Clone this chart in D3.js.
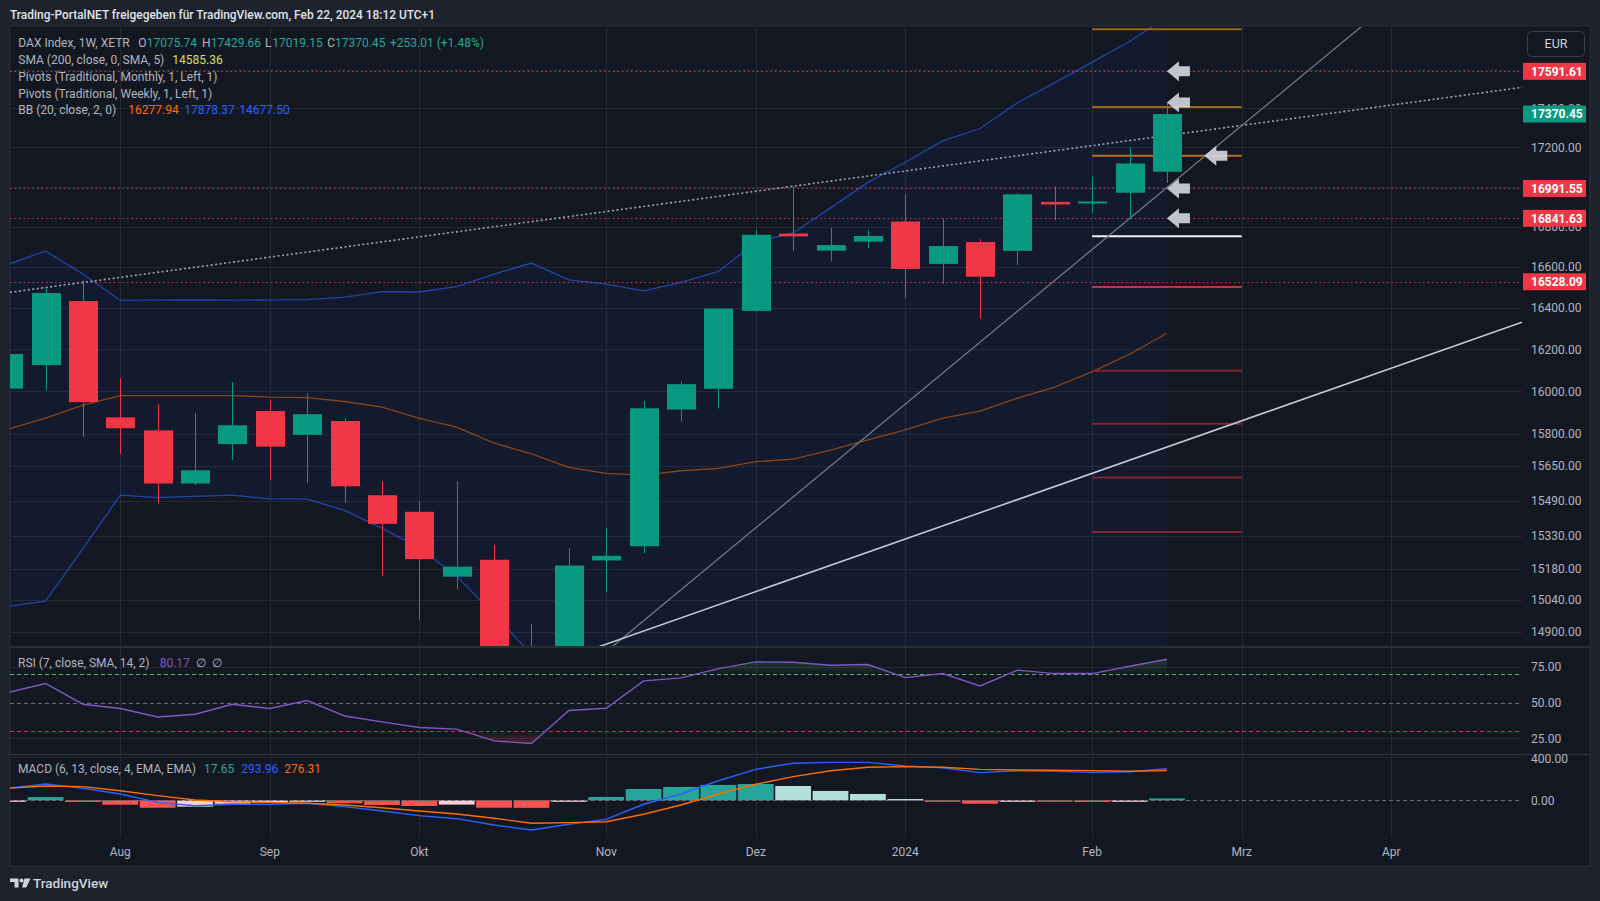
<!DOCTYPE html>
<html><head><meta charset="utf-8">
<script src="https://cdn.jsdelivr.net/npm/d3@7/dist/d3.min.js"></script>
<style>html,body{margin:0;padding:0;background:#1e222d;overflow:hidden;}svg{display:block}</style>
</head><body>
<svg id="chart" width="1600" height="901"></svg>
<script>
// ---------------- DATA ----------------
const weeks = ["2023-07-17","2023-07-24","2023-07-31","2023-08-07","2023-08-14","2023-08-21","2023-08-28","2023-09-04","2023-09-11","2023-09-18","2023-09-25","2023-10-02","2023-10-09","2023-10-16","2023-10-23","2023-10-30","2023-11-06","2023-11-13","2023-11-20","2023-11-27","2023-12-04","2023-12-11","2023-12-18","2023-12-25","2024-01-01","2024-01-08","2024-01-15","2024-01-22","2024-01-29","2024-02-05","2024-02-12","2024-02-19"];
const open  = [16013,16125,16434,15877,15816,15569,15752,15907,15795,15860,15515,15439,15145,15221,14800,14690,15218,15282,15914,16012,16386,16766,16681,16726,16826,16616,16724,16680,16924,16919,16970,17075.74];
const high  = [16240,16496,16533,16063,15940,15898,16044,15958,15991,15873,15580,15486,15580,15289,14934,15272,15366,15954,16047,16400,16784,17002,16795,16784,16964,16841,16737,16967,17002,17051,17201,17429.66];
const low   = [15990,16003,15784,15705,15476,15560,15677,15587,15571,15480,15148,14953,15087,14720,14630,14680,15075,15251,15857,15919,16380,16679,16629,16694,16449,16519,16349,16611,16832,16867,16841,17019.15];
const close = [16178,16473,15949,15826,15569,15630,15840,15740,15892,15556,15384,15224,15190,14798,14687,15195,15239,15920,16034,16397,16760,16752,16709,16754,16591,16704,16553,16962,16911,16926,17118,17370.45];

const bbUpper = [16613,16680,16566,16437,16440,16439,16438,16440,16441,16453,16480,16478,16504,16566,16620,16537,16517,16484,16525,16579,16724,16769,16894,17022,17124,17233,17296,17429,17533,17640,17748,17878.37];
const bbBasis = [15822,15874,15935,15980,15980,15980,15980,15973,15970,15952,15925,15872,15831,15756,15706,15644,15616,15608,15628,15639,15670,15682,15724,15771,15818,15874,15907,15968,16020,16094,16177,16277.94];
const bbLower = [15012,15035,15271,15515,15504,15510,15515,15498,15497,15445,15363,15274,15147,14977,14800,14755,14720,14735,14735,14705,14620,14600,14560,14525,14520,14520,14520,14510,14515,14550,14610,14677.50];

const rsi = [57.0,63.3,48.8,45.8,39.9,41.8,48.8,45.8,51.4,40.6,36.5,32.5,31.4,23.2,21.4,44.4,46.0,65.1,67.2,73.7,78.4,78.1,76.0,76.5,67.4,70.2,61.6,72.6,70.2,70.2,75.3,80.17];
const macdLine = [112,152,112,59,-19,-50,-37,-37,-28,-59,-100,-143,-171,-230,-276,-223,-177,-37,59,182,288,344,353,353,319,303,257,275,270,260,266,293.96];
const signalLine = [112,133,127,89,43,3,-13,-19,-28,-44,-69,-100,-127,-167,-214,-208,-199,-130,-44,59,149,220,275,307,313,307,288,282,279,276,270,276.31];
const histogram = [-5,30,-16,-41,-69,-59,-32,-22,-11,-28,-43,-53,-40,-69,-70,-6,31,105,124,143,152,133,87,59,12,-5,-32,-5,-7,-16,-4,17.65];

const priceTicks = [17600,17400,17200,17000,16800,16600,16400,16200,16000,15800,15650,15490,15330,15180,15040,14900];
const rsiTicks = [75,50,25];
const rsiLevels = [70,50,30];
const macdTicks = [400,0];
const monthTicks = [["2023-08-07","Aug"],["2023-09-04","Sep"],["2023-10-02","Okt"],["2023-11-06","Nov"],["2023-12-04","Dez"],["2024-01-01","2024"],["2024-02-05","Feb"],["2024-03-04","Mrz"],["2024-04-01","Apr"]];

const hLevels = [17591.61,16991.55,16841.63,16528.09];
const pivotSpan = ["2024-02-05","2024-03-04"];
const pivotNames  = ["R3","R2","R1","P","S1","S2","S3","S4","S5"];
const pivotLevels = [17812,17407,17157,16753,16503,16098,15847,15597,15347];
const trendDotted = [["2023-07-24",16500],["2023-12-11",17003]];
const trendSteep  = [["2023-11-06",14812],["2024-02-12",16841]];
const trendLower  = [["2023-10-23",14730],["2024-02-19",15738]];
const arrowPoints = [["2024-02-19",17591.61],["2024-02-19",17429.66],["2024-02-26",17157],["2024-02-19",16991.55],["2024-02-19",16841.63]];

// ---------------- SETUP ----------------
const F = "Roboto, 'Liberation Sans', Arial, sans-serif";
const parse = s => { const [a,b,c] = s.split("-").map(Number); return new Date(Date.UTC(a,b-1,c)); };
const dates = weeks.map(parse);
const N = dates.length;

const L = 10, PR = 1522, FR = 1590;
const P = {t:27, b:646}, RP = {t:648, b:753}, MP = {t:756, b:838};

const x = d3.scaleTime().domain([parse("2023-08-07"), parse("2024-04-01")]).range([120.3, 1391.2]);
const y = d3.scaleLog().domain([17400,14900]).range([108.3,631.7]);
const yR = d3.scaleLinear().domain([75,25]).range([666.7,738.3]);
const yM = d3.scaleLinear().domain([400,0]).range([757.3,800.3]);
const step = x(dates[1]) - x(dates[0]);

const svg = d3.select("#chart");
const defs = svg.append("defs");
function clip(id, t, b){ defs.append("clipPath").attr("id",id).append("rect").attr("x",L).attr("y",t).attr("width",PR-L).attr("height",b-t); }
clip("cp", P.t, P.b); clip("cr", RP.t, RP.b); clip("cm", MP.t, MP.b);

// backgrounds
svg.append("rect").attr("width",1600).attr("height",901).attr("fill","#1e222d");
svg.append("rect").attr("x",L).attr("y",26).attr("width",FR-L).attr("height",866-26).attr("fill","#131722").attr("stroke","#2a2e39").attr("stroke-width",1);

// header
svg.append("text").attr("x",10).attr("y",15).attr("dy","0.35em").attr("font-family",F).attr("font-size",12).attr("font-weight",500)
  .attr("fill","#e0e3eb").attr("textLength",425).attr("lengthAdjust","spacingAndGlyphs")
  .text("Trading-PortalNET freigegeben für TradingView.com, Feb 22, 2024 18:12 UTC+1");

// ---------- grid ----------
const grid = svg.append("g").attr("stroke","#252934").attr("stroke-width",1);
monthTicks.forEach(([d]) => {
  const xx = Math.round(x(parse(d)))+0.5;
  grid.append("line").attr("x1",xx).attr("x2",xx).attr("y1",P.t).attr("y2",MP.b);
});
priceTicks.forEach(v => { const yy = Math.round(y(v))+0.5; grid.append("line").attr("x1",L).attr("x2",PR).attr("y1",yy).attr("y2",yy); });
rsiTicks.filter(v=>v!==50).forEach(v => { const yy = Math.round(yR(v))+0.5; grid.append("line").attr("x1",L).attr("x2",PR).attr("y1",yy).attr("y2",yy); });
macdTicks.filter(v=>v!==0).forEach(v => { const yy = Math.round(yM(v))+0.5; grid.append("line").attr("x1",L).attr("x2",PR).attr("y1",yy).attr("y2",yy); });

// ---------- price pane ----------
const pg = svg.append("g").attr("clip-path","url(#cp)");
const bbArea = d3.area().x((d,i)=>x(dates[i])).y0((d,i)=>y(bbLower[i])).y1((d,i)=>y(bbUpper[i]));
pg.append("path").datum(bbUpper).attr("d",bbArea).attr("fill","#2962ff").attr("opacity",0.055);
const lineOf = arr => d3.line().x((d,i)=>x(dates[i])).y(d=>y(d))(arr);
pg.append("path").attr("d",lineOf(bbUpper)).attr("fill","none").attr("stroke","#2962ff").attr("stroke-width",1.3).attr("opacity",0.6);
pg.append("path").attr("d",lineOf(bbLower)).attr("fill","none").attr("stroke","#2962ff").attr("stroke-width",1.3).attr("opacity",0.6);
pg.append("path").attr("d",lineOf(bbBasis)).attr("fill","none").attr("stroke","#ff6d00").attr("stroke-width",1.3).attr("opacity",0.5);

// pivots
const pivColor = n => n==="P" ? "#f0f0f0" : n==="S1" ? "#c8323f" : n.startsWith("S") ? "#7d2732" : n==="R1" ? "#b8701a" : "#9c6418";
pivotLevels.forEach((v,i) => {
  const yy = y(v);
  pg.append("line").attr("x1",x(parse(pivotSpan[0]))).attr("x2",x(parse(pivotSpan[1]))).attr("y1",yy).attr("y2",yy)
    .attr("stroke",pivColor(pivotNames[i])).attr("stroke-width",2);
});

// red dotted horizontal lines
hLevels.forEach(v => {
  const yy = Math.round(y(v))+0.5;
  pg.append("line").attr("x1",L).attr("x2",PR).attr("y1",yy).attr("y2",yy).attr("stroke","#f23645").attr("stroke-width",1).attr("stroke-dasharray","1.5 3").attr("opacity",0.9);
});

// trend lines (extended through anchors)
function trend(pts, style){
  const x1 = x(parse(pts[0][0])), y1 = y(pts[0][1]), x2 = x(parse(pts[1][0])), y2 = y(pts[1][1]);
  const m = (y2-y1)/(x2-x1);
  const l = pg.append("line").attr("x1",L).attr("y1",y1+(L-x1)*m).attr("x2",PR).attr("y2",y1+(PR-x1)*m).attr("fill","none");
  Object.entries(style).forEach(([k,v])=>l.attr(k,v));
}
trend(trendDotted, {"stroke":"#a3a6af","stroke-width":1.6,"stroke-dasharray":"2 2.5"});
trend(trendSteep,  {"stroke":"#7c7f89","stroke-width":1.2});
trend(trendLower,  {"stroke":"#c9ccd4","stroke-width":1.5});

// candles
const up = "#089981", dn = "#f23645";
const bw = 29;
dates.forEach((d,i) => {
  const cx = Math.round(x(d));
  const c = close[i] >= open[i] ? up : dn;
  pg.append("line").attr("x1",cx+0.5).attr("x2",cx+0.5).attr("y1",y(high[i])).attr("y2",y(low[i])).attr("stroke",c).attr("stroke-width",1);
  const t = y(Math.max(open[i],close[i])), b = y(Math.min(open[i],close[i]));
  pg.append("rect").attr("x",cx+0.5-bw/2).attr("y",t).attr("width",bw).attr("height",Math.max(b-t,2)).attr("fill",c);
});

// arrows
arrowPoints.forEach(([d,v]) => {
  const tx = x(parse(d)), ty = y(v);
  const p = `M${tx},${ty} L${tx+12},${ty-10} L${tx+12},${ty-5} L${tx+23},${ty-5} L${tx+23},${ty+5} L${tx+12},${ty+5} L${tx+12},${ty+10} Z`;
  pg.append("path").attr("d",p).attr("fill","#d1d4dc").attr("opacity",0.92);
});

// ---------- RSI pane ----------
const rg = svg.append("g").attr("clip-path","url(#cr)");
const gG = defs.append("linearGradient").attr("id","gg").attr("gradientUnits","userSpaceOnUse").attr("x1",0).attr("x2",0).attr("y1",yR(85)).attr("y2",yR(70));
gG.append("stop").attr("offset",0).attr("stop-color","#4caf50").attr("stop-opacity",0.35);
gG.append("stop").attr("offset",1).attr("stop-color","#4caf50").attr("stop-opacity",0.03);
const gR = defs.append("linearGradient").attr("id","gr").attr("gradientUnits","userSpaceOnUse").attr("x1",0).attr("x2",0).attr("y1",yR(30)).attr("y2",yR(15));
gR.append("stop").attr("offset",0).attr("stop-color","#f23645").attr("stop-opacity",0.03);
gR.append("stop").attr("offset",1).attr("stop-color","#f23645").attr("stop-opacity",0.4);
defs.append("clipPath").attr("id","cOB").append("rect").attr("x",L).attr("y",RP.t).attr("width",PR-L).attr("height",yR(70)-RP.t);
defs.append("clipPath").attr("id","cOS").append("rect").attr("x",L).attr("y",yR(30)).attr("width",PR-L).attr("height",RP.b-yR(30));
rg.append("path").datum(rsi).attr("clip-path","url(#cOB)").attr("fill","url(#gg)")
  .attr("d", d3.area().x((d,i)=>x(dates[i])).y0(yR(70)).y1(d=>yR(d)));
rg.append("path").datum(rsi).attr("clip-path","url(#cOS)").attr("fill","url(#gr)")
  .attr("d", d3.area().x((d,i)=>x(dates[i])).y0(yR(30)).y1(d=>yR(d)));
const lvlColor = {70:"#63b267",50:"#6a6d78",30:"#d3303e"};
rsiLevels.forEach(v => {
  const yy = Math.round(yR(v))+0.5;
  rg.append("line").attr("x1",L).attr("x2",PR).attr("y1",yy).attr("y2",yy).attr("stroke",lvlColor[v]).attr("stroke-width",1).attr("stroke-dasharray","4 3");
});
rg.append("path").attr("d", d3.line().x((d,i)=>x(dates[i])).y(d=>yR(d))(rsi)).attr("fill","none").attr("stroke","#7e57c2").attr("stroke-width",1.4);

// ---------- MACD pane ----------
const mg = svg.append("g").attr("clip-path","url(#cm)");
const z0 = Math.round(yM(0))+0.5;
histogram.forEach((v,i) => {
  const prev = i>0 ? histogram[i-1] : v - 1;
  const col = v >= 0 ? (v > prev ? "#26a69a" : "#b2dfdb") : (v > prev ? "#ffcdd2" : "#ff5252");
  const cx = x(dates[i]);
  const t = Math.min(yM(v), yM(0)), h = Math.max(Math.abs(yM(v)-yM(0)), 1.5);
  mg.append("rect").attr("x",cx-step/2+0.8).attr("y",t).attr("width",step-1.6).attr("height",h).attr("fill",col);
});
mg.append("line").attr("x1",L).attr("x2",PR).attr("y1",z0).attr("y2",z0).attr("stroke","#6a6d78").attr("stroke-dasharray","4 3");
const mLine = arr => d3.line().x((d,i)=>x(dates[i])).y(d=>yM(d))(arr);
mg.append("path").attr("d",mLine(macdLine)).attr("fill","none").attr("stroke","#2962ff").attr("stroke-width",1.4);
mg.append("path").attr("d",mLine(signalLine)).attr("fill","none").attr("stroke","#ff6d00").attr("stroke-width",1.4);

// pane separators
[[647,2],[754.5,1.5]].forEach(([yy,w]) => svg.append("line").attr("x1",L).attr("x2",FR).attr("y1",yy).attr("y2",yy).attr("stroke","#2a2e39").attr("stroke-width",w));

// ---------- axes text ----------
const axT = (xx,yy,s,opt={}) => svg.append("text").attr("x",xx).attr("y",yy).attr("dy","0.35em").attr("font-family",F).attr("font-size",opt.size||12)
  .attr("font-weight",opt.weight||400).attr("fill",opt.fill||"#b2b5be").attr("text-anchor",opt.anchor||"start").text(s);
const fmt = d3.format(".2f");
priceTicks.forEach(v => axT(1531, y(v), fmt(v)));
rsiTicks.forEach(v => axT(1531, yR(v), fmt(v)));
macdTicks.forEach(v => axT(1531, yM(v)+ (v===400?1:0), fmt(v)));
monthTicks.forEach(([d,s]) => axT(x(parse(d)), 851.7, s, {anchor:"middle"}));

function tag(v, col){
  const yy = y(v);
  svg.append("rect").attr("x",1523).attr("y",yy-8.5).attr("width",63).attr("height",17).attr("fill",col);
  axT(1531, yy, fmt(v), {fill:"#ffffff", weight:700});
}
hLevels.forEach(v => tag(v, "#f23645"));
tag(close[N-1], "#089981");

// EUR box
svg.append("rect").attr("x",1527.5).attr("y",31.5).attr("width",57).attr("height",25).attr("rx",4).attr("fill","#131722").attr("stroke","#3a3e4a");
axT(1556, 44, "EUR", {anchor:"middle", fill:"#d1d4dc", size:12.5});

// ---------- legends ----------
function legend(yy, segs){
  segs.forEach(([s, xx, col]) => axT(xx, yy, s, {fill: col || "#b2b5be", size:12}));
}
const G = "#22ab94";
legend(42.3, [["DAX Index, 1W, XETR",18.3],["O",138.3],[fmt(open[N-1]),146.7,G],["H",202],[fmt(high[N-1]),210.7,G],["L",265],[fmt(low[N-1]),272.3,G],["C",327.3],[fmt(close[N-1]),335,G],
  ["+253.01 (+1.48%)",390,G]]);
legend(59.3, [["SMA (200, close, 0, SMA, 5)",18.3],["14585.36",172.3,"#d4e157"]]);
legend(76.7, [["Pivots (Traditional, Monthly, 1, Left, 1)",18.3]]);
legend(93.3, [["Pivots (Traditional, Weekly, 1, Left, 1)",18.3]]);
legend(110, [["BB (20, close, 2, 0)",18.3],[fmt(bbBasis[N-1]),128.3,"#ff6d00"],[fmt(bbUpper[N-1]),184.3,"#2962ff"],[fmt(bbLower[N-1]),239.3,"#2962ff"]]);
legend(662.3, [["RSI (7, close, SMA, 14, 2)",18],[fmt(rsi[N-1]),159.7,"#7e57c2"],["∅",196],["∅",212]]);
legend(768.3, [["MACD (6, 13, close, 4, EMA, EMA)",18],[fmt(histogram[N-1]),204,G],[fmt(macdLine[N-1]),241.3,"#2962ff"],[fmt(signalLine[N-1]),284.2,"#ff6d00"]]);

// ---------- footer logo ----------
const lg = svg.append("g").attr("fill","#d1d4dc");
lg.append("path").attr("d","M10,878.5 h8.5 v9 h-4 v-5.5 h-4.5 Z");
lg.append("circle").attr("cx",21.5).attr("cy",880.5).attr("r",2);
lg.append("path").attr("d","M24.5,878.5 h6 l-4.2,9 h-4.3 Z");
svg.append("text").attr("x",33).attr("y",883).attr("dy","0.35em").attr("font-family",F).attr("font-size",13.5).attr("font-weight",500).attr("fill","#d1d4dc").text("TradingView");
</script>
</body></html>
